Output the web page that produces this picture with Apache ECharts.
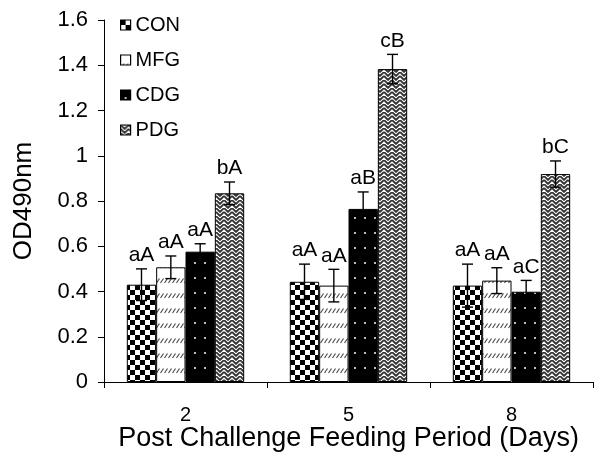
<!DOCTYPE html>
<html>
<head>
<meta charset="utf-8">
<script src="https://cdn.jsdelivr.net/npm/echarts@6/dist/echarts.min.js"></script>
<style>
html,body{margin:0;padding:0;background:#fff;}
#chart{width:597px;height:452px;}
</style>
</head>
<body>
<div id="chart"></div>
<script>
var categories = ['2', '5', '8'];
var seriesNames = ['CON', 'MFG', 'CDG', 'PDG'];
var conValues = [0.43, 0.443, 0.426];
var mfgValues = [0.507, 0.426, 0.448];
var cdgValues = [0.576, 0.765, 0.399];
var pdgValues = [0.834, 1.383, 0.919];
var conErr = [0.07, 0.078, 0.095];
var mfgErr = [0.05, 0.072, 0.057];
var cdgErr = [0.035, 0.075, 0.05];
var pdgErr = [0.05, 0.065, 0.058];
var conLabels = ['aA', 'aA', 'aA'];
var mfgLabels = ['aA', 'aA', 'aA'];
var cdgLabels = ['aA', 'aB', 'aC'];
var pdgLabels = ['bA', 'cB', 'bC'];
var yTicks = [0, 0.2, 0.4, 0.6, 0.8, 1, 1.2, 1.4, 1.6];

var FONT = 'Liberation Sans, Arial, sans-serif';

function makeTile(w, h, draw) {
  var c = document.createElement('canvas');
  c.width = w; c.height = h;
  var ctx = c.getContext('2d');
  draw(ctx, w, h);
  return c;
}
var conTile = makeTile(10, 10, function (ctx) {
  ctx.fillStyle = '#fff'; ctx.fillRect(0, 0, 10, 10);
  ctx.fillStyle = '#000'; ctx.fillRect(0, 0, 5, 5); ctx.fillRect(5, 5, 5, 5);
});
var mfgTile = makeTile(4, 15, function (ctx) {
  ctx.fillStyle = '#fff'; ctx.fillRect(0, 0, 4, 15);
  ctx.strokeStyle = '#444'; ctx.lineWidth = 1.1;
  ctx.beginPath(); ctx.moveTo(0.5, 13); ctx.lineTo(3.5, 8.5); ctx.stroke();
});
var cdgTile = makeTile(10, 15, function (ctx) {
  ctx.fillStyle = '#000'; ctx.fillRect(0, 0, 10, 15);
  ctx.fillStyle = '#bbb'; ctx.fillRect(4, 7, 2, 2);
});
var pdgTile = makeTile(8, 8, function (ctx) {
  ctx.fillStyle = '#fff'; ctx.fillRect(0, 0, 8, 8);
  ctx.strokeStyle = '#333'; ctx.lineWidth = 1.8;
  ctx.beginPath();
  ctx.moveTo(0, 0); ctx.lineTo(4, 4); ctx.lineTo(8, 0);
  ctx.moveTo(0, 4); ctx.lineTo(4, 8); ctx.lineTo(8, 4);
  ctx.stroke();
  ctx.fillStyle = '#777'; ctx.fillRect(3, 0, 2, 1); ctx.fillRect(3, 4, 2, 1);
});
var tiles = [conTile, mfgTile, cdgTile, pdgTile];
var valuesList = [conValues, mfgValues, cdgValues, pdgValues];
var errList = [conErr, mfgErr, cdgErr, pdgErr];
var labelList = [conLabels, mfgLabels, cdgLabels, pdgLabels];
var BAR_RATIO = 0.18;

var chart = echarts.init(document.getElementById('chart'), null, {renderer: 'canvas'});

var series = seriesNames.map(function (name, i) {
  return {
    name: name,
    type: 'bar',
    barWidth: (BAR_RATIO * 100) + '%',
    barGap: '0%',
    data: valuesList[i],
    itemStyle: {
      color: {image: tiles[i], repeat: 'repeat'},
      borderColor: '#000',
      borderWidth: 1
    },
    silent: true,
    z: 2
  };
});

var errData = [];
for (var s = 0; s < 4; s++) {
  for (var c = 0; c < categories.length; c++) {
    errData.push([c, s, valuesList[s][c], errList[s][c], labelList[s][c]]);
  }
}

series.push({
  type: 'custom',
  name: 'err',
  z: 5,
  silent: true,
  data: errData,
  encode: {x: 0, y: 2},
  renderItem: function (params, api) {
    var row = errData[params.dataIndex];
    var cat = row[0], si = row[1], v = row[2], e = row[3], lab = row[4];
    var band = api.size([1, 0])[0];
    var bw = band * BAR_RATIO;
    var x = api.coord([cat, 0])[0] + (si - 1.5) * bw;
    var yTop = api.coord([cat, v + e])[1];
    var yBot = api.coord([cat, v - e])[1];
    var cap = 5.5;
    var ls = {stroke: '#000', lineWidth: 1.4};
    return {
      type: 'group',
      children: [
        {type: 'line', shape: {x1: x, y1: yTop, x2: x, y2: yBot}, style: ls},
        {type: 'line', shape: {x1: x - cap, y1: yTop, x2: x + cap, y2: yTop}, style: ls},
        {type: 'line', shape: {x1: x - cap, y1: yBot, x2: x + cap, y2: yBot}, style: ls},
        {type: 'text', style: {text: lab, x: x, y: yTop - 3, align: 'center', verticalAlign: 'bottom',
          fontSize: 21, fontFamily: FONT, fill: '#000'}}
      ]
    };
  }
});

chart.setOption({
  animation: false,
  backgroundColor: '#fff',
  textStyle: {fontFamily: FONT, color: '#000'},
  grid: {left: 104, right: 4, top: 20, bottom: 70, containLabel: false, outerBoundsMode: 'none'},
  legend: {
    data: seriesNames,
    orient: 'vertical',
    left: 115,
    top: 10,
    itemWidth: 10,
    itemHeight: 10,
    itemGap: 15,
    icon: 'rect',
    textStyle: {fontSize: 20, fontFamily: FONT, color: '#000', padding: [0, 0, 0, 0]},
    itemStyle: {borderColor: '#000', borderWidth: 1.2}
  },
  xAxis: {
    type: 'category',
    data: categories,
    axisLine: {lineStyle: {color: '#000', width: 1}},
    axisTick: {show: true, length: 6, lineStyle: {color: '#000'}},
    axisLabel: {fontSize: 20, color: '#000', margin: 23, fontFamily: FONT},
    name: 'Post Challenge Feeding Period (Days)',
    nameLocation: 'middle',
    nameGap: 43,
    nameMoveOverlap: false,
    nameTextStyle: {fontSize: 27, color: '#000', fontFamily: FONT}
  },
  yAxis: {
    type: 'value',
    min: 0,
    max: 1.6,
    interval: 0.2,
    splitLine: {show: false},
    axisLine: {show: true, lineStyle: {color: '#000', width: 1}},
    axisTick: {show: true, length: 6, lineStyle: {color: '#000'}},
    axisLabel: {
      fontSize: 22, color: '#000', margin: 16, fontFamily: FONT,
      formatter: function (v) {
        var best = yTicks.reduce(function (a, b) { return Math.abs(b - v) < Math.abs(a - v) ? b : a; });
        return String(best);
      }
    },
    name: 'OD490nm',
    nameLocation: 'middle',
    nameGap: 67,
    nameRotate: 90,
    nameMoveOverlap: false,
    nameTextStyle: {fontSize: 26, color: '#000', fontFamily: FONT}
  },
  series: series
});
</script>
</body>
</html>
